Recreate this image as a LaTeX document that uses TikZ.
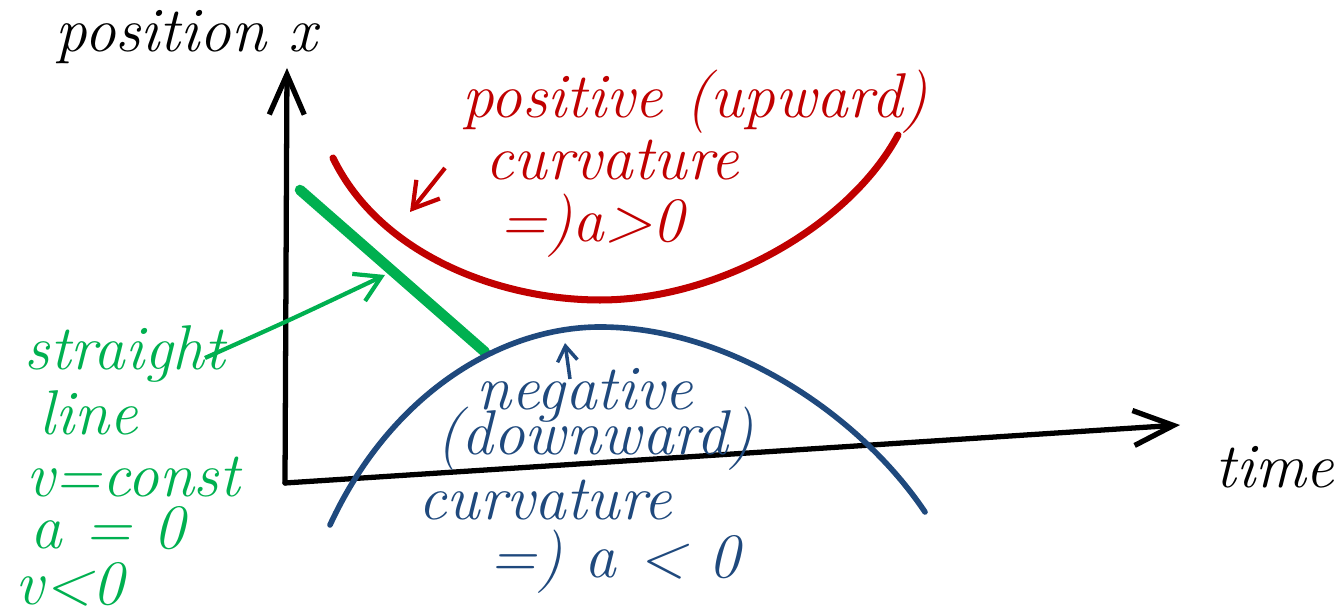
\documentclass[tikz,border=0pt]{standalone}
\usetikzlibrary{arrows.meta}
\definecolor{penred}{RGB}{192,0,0}
\definecolor{pengreen}{RGB}{0,176,80}
\definecolor{penblue}{RGB}{31,73,125}
\begin{document}
\begin{tikzpicture}[>={Straight Barb[length=4mm,width=3.5mm]},
    axis/.style={line width=1.5pt, line cap=round},
    hand/.style={font=\fontsize{18}{22}\selectfont\itshape, anchor=base, inner sep=0pt}]
    \useasboundingbox (0,0) rectangle (13.44,6.15);

    % 坐标轴
    \coordinate (O) at (2.85,1.32);
    \coordinate (ytop) at (2.87,5.47);
    \coordinate (xend) at (11.80,1.90);
    \draw[axis,->] (O) -- (ytop);
    \draw[axis,->] (O) -- (xend);
    \node[hand] (xlab) at (1.86,5.63) {position x};
    \node[hand] (tlab) at (12.75,1.27) {time};

    % 向上弯曲 (a>0)
    \draw[penred, line width=2pt, line cap=round] (3.33,4.57) .. controls (3.8,3.6) and (5.0,3.15) .. (6.0,3.15)
        .. controls (7.2,3.15) and (8.5,3.9) .. (8.98,4.80);
    \node[hand, penred] (pos) at (6.95,4.97) {positive (upward)};
    \node[hand, penred] (rcurv) at (6.12,4.35) {curvature};
    \node[hand, penred] (rres) at (5.92,3.73) {=)a>0};
    \coordinate (rtail) at (4.45,4.47);
    \coordinate (rtip) at (4.10,4.03);
    \draw[penred, line width=1.2pt, ->, >={Straight Barb[length=2.5mm,width=3mm]}] (rtail) -- (rtip);

    % 直线 (a=0)
    \coordinate (g1) at (3.00,4.25);
    \coordinate (g2) at (4.85,2.63);
    \draw[pengreen, line width=3pt, line cap=round] (g1) -- (g2);
    \node[hand, pengreen] (str) at (1.25,2.45) {straight};
    \node[hand, pengreen] (lin) at (0.89,1.80) {line};
    \node[hand, pengreen] (vc) at (1.33,1.18) {v=const};
    \node[hand, pengreen] (az) at (1.08,0.66) {a = 0};
    \node[hand, pengreen] (vn) at (0.70,0.10) {v<0};
    \coordinate (gtail) at (2.05,2.57);
    \coordinate (gtip) at (3.85,3.40);
    \draw[pengreen, line width=1.2pt, ->, >={Straight Barb[length=2.5mm,width=3mm]}] (gtail) .. controls (2.9,2.95) .. (gtip);

    % 向下弯曲 (a<0)
    \draw[penblue, line width=1.6pt, line cap=round] (3.30,0.90) .. controls (3.9,2.2) and (5.0,2.88) .. (6.0,2.88)
        .. controls (7.3,2.88) and (8.6,2.0) .. (9.25,1.03);
    \node[hand, penblue] (neg) at (5.85,2.05) {negative};
    \node[hand, penblue] (down) at (5.95,1.60) {(downward)};
    \node[hand, penblue] (bcurv) at (5.45,0.95) {curvature};
    \node[hand, penblue] (bres) at (6.15,0.37) {=) a < 0};
    \coordinate (btail) at (5.70,2.36);
    \coordinate (btip) at (5.65,2.72);
    \draw[penblue, line width=1pt, ->, >={Straight Barb[length=1.5mm,width=2mm]}] (btail) -- (btip);
\end{tikzpicture}
\end{document}
